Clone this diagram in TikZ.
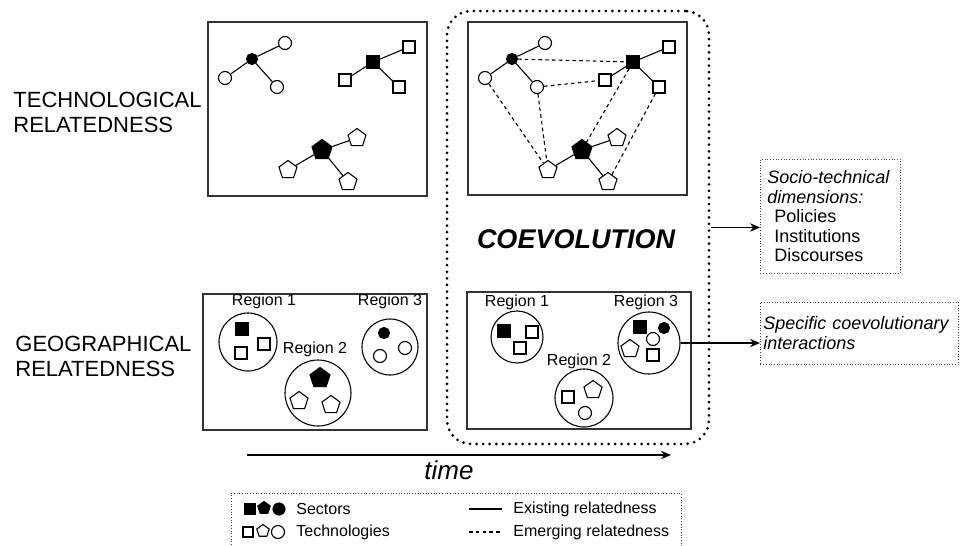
\documentclass[tikz,border=0pt]{standalone}
\usepackage{fontspec}
\setmainfont{Liberation Sans}
\usepackage{tikz}
\usetikzlibrary{shapes.geometric,arrows.meta}

\tikzset{
	techc/.style={draw,circle,inner sep=0pt,minimum size=6.5pt,fill=white,line width=0.55pt},
	secc/.style={draw,circle,inner sep=0pt,minimum size=5.5pt,fill,line width=0.55pt},
	techs/.style={draw,rectangle,inner sep=0pt,minimum size=6pt,fill=white,line width=0.55pt},
	secs/.style={draw,rectangle,inner sep=0pt,minimum size=6.3pt,fill,line width=0.55pt},
	techp/.style={draw,regular polygon,regular polygon sides=5,inner sep=0pt,minimum size=9.5pt,fill=white,line width=0.55pt},
	secp/.style={draw,regular polygon,regular polygon sides=5,inner sep=0pt,minimum size=10.5pt,fill,line width=0.55pt},
	region/.style={draw,circle,inner sep=0pt,line width=0.55pt},
	rlabel/.style={font=\fontsize{8}{9}\selectfont,inner sep=0pt},
	side/.style={anchor=west,align=left,font=\fontsize{11}{12.5}\selectfont,inner sep=0pt},
	note/.style={draw=black!75,line width=0.45pt,dash pattern=on 0.45pt off 0.9pt,inner sep=0pt},
	existing/.style={line width=0.55pt},
	emerging/.style={line width=0.55pt,dash pattern=on 1.8pt off 1.6pt},
	flow/.style={line width=0.6pt,-{Stealth[length=5pt,width=4.2pt]}},
}

\begin{document}
\begin{tikzpicture}[x=0.5pt,y=-0.5pt]
\useasboundingbox (0,0) rectangle (960,546);

% row labels
\node[side] (techlab) at (13,112) {TECHNOLOGICAL\\RELATEDNESS};
\node[side] (geolab) at (15,356) {GEOGRAPHICAL\\RELATEDNESS};

% panels
\draw[line width=0.65pt,black!80] (208,22) rectangle (427,196);
\draw[line width=0.65pt,black!80] (468,22) rectangle (687,195);
\draw[line width=0.65pt,black!80] (203,294) rectangle (427,430);
\draw[line width=0.65pt,black!80] (467,292) rectangle (691,429);

\node[draw,line width=1.5pt,line cap=round,dash pattern=on 0pt off 3.3pt,rounded corners=12pt,
	minimum width=131pt,minimum height=216.5pt,inner sep=0pt] (coev) at (578,227.5) {};

% technology networks
\foreach \p/\dx in {tl/0, tr/260}
	{
	\node[secc] (\p-c0) at (252+\dx,59) {};
	\node[techc] (\p-c1) at (285+\dx,43) {};
	\node[techc] (\p-c2) at (225+\dx,78) {};
	\node[techc] (\p-c3) at (277+\dx,87) {};

	\node[secs] (\p-s0) at (373+\dx,62) {};
	\node[techs] (\p-s1) at (409+\dx,47) {};
	\node[techs] (\p-s2) at (345+\dx,80) {};
	\node[techs] (\p-s3) at (399+\dx,87) {};

	\node[secp] (\p-p0) at (322+\dx,150) {};
	\node[techp] (\p-p1) at (357+\dx,138) {};
	\node[techp] (\p-p2) at (288+\dx,170) {};
	\node[techp] (\p-p3) at (348+\dx,182) {};

	\foreach \a/\b in {c0/c1, c0/c2, c0/c3, s0/s1, s0/s2, s0/s3, p0/p1, p0/p2, p0/p3}
		\draw[existing] (\p-\a) -- (\p-\b);
	}

\foreach \a/\b in {c0/s0, c3/s2, c2/p2, c3/p2, s0/p0, s3/p3}
	\draw[emerging] (tr-\a) -- (tr-\b);

% regions, before
\node[region,minimum size=29pt] (bl-r1) at (248,342) {};
\node[rlabel] (bl-l1) at (264,301) {Region 1};
\node[secs] (bl-r1s) at (242,329) {};
\node[techs] (bl-r1a) at (241,353) {};
\node[techs] (bl-r1b) at (264,344) {};

\node[region,minimum size=33pt] (bl-r2) at (318,393) {};
\node[rlabel] (bl-l2) at (315,349) {Region 2};
\node[secp] (bl-r2s) at (320,378) {};
\node[techp] (bl-r2a) at (299,401) {};
\node[techp] (bl-r2b) at (331,405) {};

\node[region,minimum size=28pt] (bl-r3) at (390,347) {};
\node[rlabel] (bl-l3) at (390,301) {Region 3};
\node[secc] (bl-r3s) at (384,333) {};
\node[techc] (bl-r3a) at (380,356) {};
\node[techc] (bl-r3b) at (405,348) {};

% regions, after
\node[region,minimum size=26pt] (br-r1) at (517,337) {};
\node[rlabel] (br-l1) at (517,302) {Region 1};
\node[secs] (br-r1s) at (504,331) {};
\node[techs] (br-r1a) at (532,332) {};
\node[techs] (br-r1b) at (520,348) {};

\node[region,minimum size=29pt] (br-r2) at (584,398) {};
\node[rlabel] (br-l2) at (579,361) {Region 2};
\node[techs] (br-r2a) at (568,397) {};
\node[techp] (br-r2b) at (593,390) {};
\node[techc] (br-r2c) at (585,413) {};

\node[region,minimum size=31pt] (br-r3) at (649,343) {};
\node[rlabel] (br-l3) at (646,302) {Region 3};
\node[secs] (br-r3s) at (640,327) {};
\node[secc] (br-r3t) at (664,328) {};
\node[techc] (br-r3a) at (653,339) {};
\node[techp] (br-r3b) at (630,349) {};
\node[techs] (br-r3c) at (653,355) {};

\node[font=\fontsize{13.5}{16}\selectfont\bfseries\itshape,inner sep=0pt] (coevlab) at (576,239) {COEVOLUTION};

% side notes
\node[note,text width=63pt,inner xsep=3.5pt,minimum height=57pt,align=left,anchor=north west,
	font=\fontsize{9}{9.75}\selectfont] (socio) at (760,159)
	{\textit{Socio-technical}\\\textit{dimensions:}\\\hspace*{3.5pt}Policies\\\hspace*{3.5pt}Institutions\\\hspace*{3.5pt}Discourses};
\node[note,text width=96pt,inner xsep=1.5pt,minimum height=31pt,align=left,anchor=north west,
	font=\fontsize{9}{10}\selectfont\itshape] (spec) at (760,302)
	{Specific coevolutionary\\interactions};

\draw[flow] (coev.east) -- (coev.east -| socio.west);
\draw[flow] (br-r3.east) -- (br-r3.east -| spec.west);

% time axis
\coordinate (t0) at (247,455);
\coordinate (t1) at (671,455);
\draw[flow,line width=0.65pt] (t0) -- (t1);
\node[font=\fontsize{13}{15}\selectfont\itshape,inner sep=0pt] (timelab) at (449,470) {time};

% legend
\node[note,minimum width=225pt,minimum height=35pt,anchor=north west] (legend) at (231,493) {};
\node[secs,minimum size=5pt] (lg-s) at (250,509) {};
\node[secp,minimum size=6.5pt] (lg-p) at (264,508) {};
\node[secc,minimum size=6pt] (lg-c) at (279,509) {};
\node[techs,minimum size=5pt] (lg-ts) at (248,532) {};
\node[techp,minimum size=6.5pt] (lg-tp) at (263,531) {};
\node[techc,minimum size=6.5pt] (lg-tc) at (278,532) {};
\node[rlabel,anchor=west] (lg-sec) at (296,509) {Sectors};
\node[rlabel,anchor=west] (lg-tech) at (296,532) {Technologies};
\coordinate (le0) at (469,509);
\coordinate (le1) at (502,509);
\coordinate (lm0) at (469,532);
\coordinate (lm1) at (502,532);
\draw[existing] (le0) -- (le1);
\draw[emerging] (lm0) -- (lm1);
\node[rlabel,anchor=west] (lg-ex) at (513,509) {Existing relatedness};
\node[rlabel,anchor=west] (lg-em) at (513,532) {Emerging relatedness};
\end{tikzpicture}
\end{document}
